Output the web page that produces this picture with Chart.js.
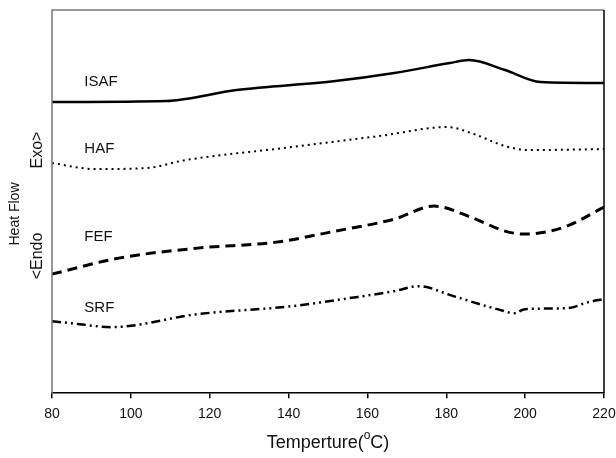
<!DOCTYPE html>
<html>
<head>
<meta charset="utf-8">
<title>DSC curves</title>
<script src="https://cdn.jsdelivr.net/npm/chart.js@4.4.1/dist/chart.umd.min.js"></script>
<style>
  body { margin: 0; background: #fff; }
  #wrap { width: 616px; height: 458px; position: relative; }
</style>
</head>
<body>
<div id="wrap"><canvas id="dsc"></canvas></div>
<script>
// Temperatura (C) y flujo de calor (unidades arbitrarias, desplazadas) de cada negro de humo
var isafT = [80, 108.9, 126.8, 151.9, 166.8, 180.9, 185.8, 194.9, 203.9, 220];
var isafY = [29.1, 29.2, 30.3, 31.2, 32.0, 33.0, 33.3, 32.3, 31.1, 31.0];

var hafT = [80, 90.9, 103.8, 113.9, 140.8, 163, 180.4, 187, 194.9, 201, 220];
var hafY = [23.0, 22.4, 22.5, 23.3, 24.6, 25.7, 26.6, 25.9, 24.7, 24.3, 24.4];

var fefT = [80, 96.9, 116.9, 136.9, 151.9, 166.8, 176.9, 186.8, 194.9, 199.9, 209.9, 220];
var fefY = [11.9, 13.5, 14.5, 15.1, 16.2, 17.4, 18.7, 17.5, 16.2, 15.9, 16.6, 18.6];

var srfT = [80, 87, 94.9, 116.9, 140.9, 155.4, 166.8, 172.9, 181.8, 192.9, 197.4, 199.9, 210.8, 216, 220];
var srfY = [7.2, 6.9, 6.6, 7.9, 8.7, 9.5, 10.2, 10.7, 9.7, 8.4, 8.0, 8.4, 8.5, 9.1, 9.4];

var nombres = ["ISAF", "HAF", "FEF", "SRF"];
var etiquetaY = [31.1, 24.4, 15.6, 8.5]; // altura de cada rotulo
var etiquetaT = 88.2;
var xTicks = [80, 100, 120, 140, 160, 180, 200, 220];

function puntos(t, y) {
    return t.map(function(v, i){ return { x: v, y: y[i] }; });
}

var estilos = [
    { w: 2.5, dash: [] },
    { w: 2, dash: [2, 4] },
    { w: 3, dash: [10, 6] },
    { w: 2.5, dash: [9, 4, 2, 4, 2, 4] }
];
var series = [puntos(isafT, isafY), puntos(hafT, hafY), puntos(fefT, fefY), puntos(srfT, srfY)];

var datasets = series.map(function(d, i){
    return {
        label: nombres[i],
        data: d,
        showLine: true,
        borderColor: "#000",
        borderWidth: estilos[i].w,
        borderDash: estilos[i].dash,
        pointRadius: 0,
        cubicInterpolationMode: "monotone",
        fill: false
    };
});

var fuente = "'Liberation Sans', Arial, sans-serif";

// Marco, rotulos de las curvas y titulos de los ejes
var extras = {
    id: "extras",
    afterDraw: function(chart){
        var ctx = chart.ctx;
        var a = chart.chartArea;
        var sx = chart.scales.x, sy = chart.scales.y;
        ctx.save();
        ctx.lineWidth = 1.5;
        ctx.strokeStyle = "#777";
        ctx.beginPath();
        ctx.moveTo(a.left, a.bottom);
        ctx.lineTo(a.left, a.top);
        ctx.lineTo(a.right, a.top);
        ctx.stroke();
        ctx.strokeStyle = "#000";
        ctx.beginPath();
        ctx.moveTo(a.right, a.top);
        ctx.lineTo(a.right, a.bottom);
        ctx.stroke();

        ctx.fillStyle = "#111";
        ctx.font = "15px " + fuente;
        ctx.textBaseline = "middle";
        ctx.textAlign = "left";
        nombres.forEach(function(n, i){
            ctx.fillText(n, sx.getPixelForValue(etiquetaT), sy.getPixelForValue(etiquetaY[i]));
        });

        // titulo eje x con el "o" en superindice
        ctx.font = "18px " + fuente;
        var p1 = "Temperture(", p3 = "C)";
        var w1 = ctx.measureText(p1).width;
        var w3 = ctx.measureText(p3).width;
        ctx.font = "12px " + fuente;
        var w2 = ctx.measureText("o").width;
        var cx = (a.left + a.right) / 2;
        var x0 = cx - (w1 + w2 + w3) / 2;
        var yT = 443;
        ctx.font = "18px " + fuente;
        ctx.fillText(p1, x0, yT);
        ctx.font = "12px " + fuente;
        ctx.fillText("o", x0 + w1, yT - 7);
        ctx.font = "18px " + fuente;
        ctx.fillText(p3, x0 + w1 + w2, yT);

        // titulos verticales
        ctx.textAlign = "center";
        ctx.save();
        ctx.translate(15, 214);
        ctx.rotate(-Math.PI / 2);
        ctx.font = "14px " + fuente;
        ctx.fillText("Heat Flow", 0, 0);
        ctx.restore();

        ctx.font = "16px " + fuente;
        ctx.save();
        ctx.translate(38, 150);
        ctx.rotate(-Math.PI / 2);
        ctx.fillText("Exo>", 0, 0);
        ctx.restore();
        ctx.save();
        ctx.translate(38, 256);
        ctx.rotate(-Math.PI / 2);
        ctx.fillText("<Endo", 0, 0);
        ctx.restore();
        ctx.restore();
    }
};

var chart = new Chart(document.getElementById("dsc"), {
    type: "scatter",
    data: { datasets: datasets },
    options: {
        responsive: true,
        maintainAspectRatio: false,
        animation: false,
        layout: { padding: { left: 52, top: 10, right: 12, bottom: 27 } },
        plugins: { legend: { display: false }, tooltip: { enabled: false } },
        scales: {
            x: {
                type: "linear",
                min: 80,
                max: 220,
                afterBuildTicks: function(s){ s.ticks = xTicks.map(function(v){ return { value: v }; }); },
                // el margen lo fija layout.padding, no el ancho de "220"
                afterFit: function(s){ s.paddingLeft = 0; s.paddingRight = 0; },
                grid: { drawOnChartArea: false, drawTicks: true, tickLength: 5, color: "#000", lineWidth: 1.5 },
                border: { color: "#000", width: 1.5 },
                ticks: {
                    color: "#111",
                    padding: 8,
                    maxRotation: 0,
                    font: { family: fuente, size: 14 }
                }
            },
            y: {
                display: false,
                min: 0,
                max: 38.3
            }
        }
    },
    plugins: [extras]
});
</script>
</body>
</html>
